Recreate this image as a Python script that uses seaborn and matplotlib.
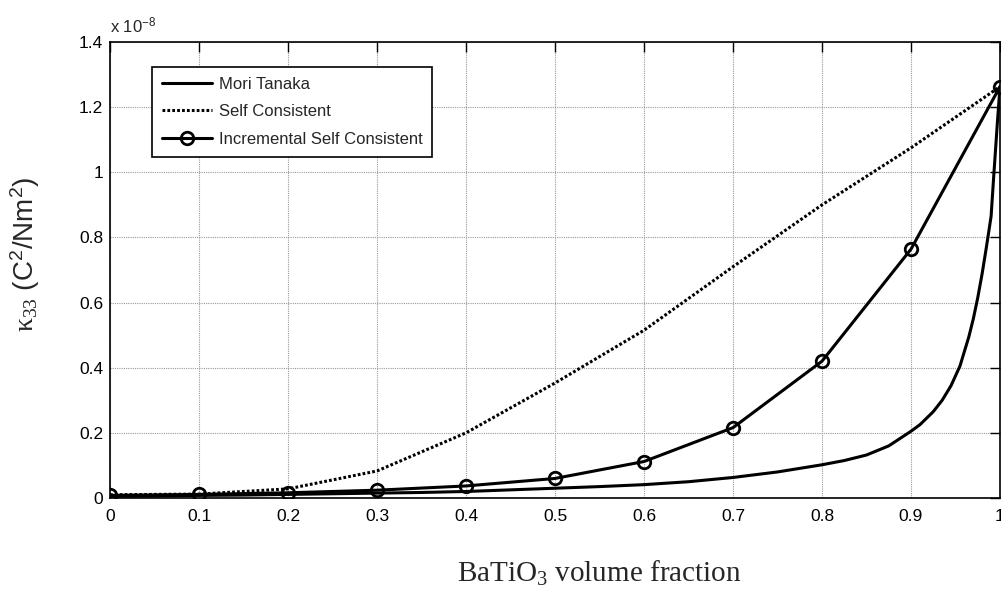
import numpy as np
import pandas as pd
import matplotlib
matplotlib.use("Agg")
import matplotlib.pyplot as plt
import seaborn as sns
from matplotlib.ticker import FuncFormatter

# ---- data (values in units of 1e-8 C^2/Nm^2) ----
x_mt = [0.0, 0.05, 0.1, 0.15, 0.2, 0.25, 0.3, 0.35, 0.4, 0.45, 0.5, 0.55, 0.6,
        0.65, 0.7, 0.75, 0.8, 0.825, 0.85, 0.875, 0.9, 0.91, 0.925, 0.935,
        0.945, 0.955, 0.965, 0.97, 0.975, 0.98, 0.985, 0.99, 0.993, 0.997, 1.0]
y_mt = [0.005, 0.006, 0.008, 0.009, 0.011, 0.013, 0.015, 0.017, 0.020, 0.025,
        0.030, 0.035, 0.041, 0.050, 0.063, 0.080, 0.102, 0.115, 0.132, 0.160,
        0.205, 0.225, 0.265, 0.300, 0.345, 0.405, 0.495, 0.550, 0.615, 0.690,
        0.775, 0.865, 0.990, 1.150, 1.263]

x_sc = [0.0, 0.1, 0.2, 0.3, 0.4, 0.5, 0.6, 0.7, 0.8, 0.9, 1.0]
y_sc = [0.010, 0.012, 0.028, 0.083, 0.200, 0.353, 0.515, 0.710, 0.900, 1.075, 1.263]

x_isc = [0.0, 0.1, 0.2, 0.3, 0.4, 0.5, 0.6, 0.7, 0.8, 0.9, 1.0]
y_isc = [0.008, 0.011, 0.016, 0.024, 0.037, 0.060, 0.112, 0.216, 0.420, 0.764, 1.263]

series_names = ["Mori Tanaka", "Self Consistent", "Incremental Self Consistent"]
x_ticks = [0, 0.1, 0.2, 0.3, 0.4, 0.5, 0.6, 0.7, 0.8, 0.9, 1.0]
y_ticks = [0, 0.2, 0.4, 0.6, 0.8, 1.0, 1.2, 1.4]

sns.set_theme(style="white")
plt.rcParams['font.family'] = ['Liberation Sans', 'DejaVu Sans']
plt.rcParams['mathtext.fontset'] = 'custom'
plt.rcParams['mathtext.rm'] = 'Liberation Serif'
plt.rcParams['mathtext.sf'] = 'Liberation Sans'
plt.rcParams['mathtext.it'] = 'Liberation Serif:italic'

fig = plt.figure(figsize=(10.01, 6.0), dpi=100)
ax = fig.add_axes([110/1001, 102/600, 890/1001, 456/600])

df_mt = pd.DataFrame({"x": x_mt, "y": y_mt})
df_sc = pd.DataFrame({"x": x_sc, "y": y_sc})
df_isc = pd.DataFrame({"x": x_isc, "y": y_isc})

lw = 2.2
sns.lineplot(data=df_mt, x="x", y="y", ax=ax, color="black", lw=lw,
             label=series_names[0], zorder=3)
sns.lineplot(data=df_sc, x="x", y="y", ax=ax, color="black", lw=lw,
             linestyle=(0, (0.9, 0.7)), label=series_names[1], zorder=3)
sns.lineplot(data=df_isc, x="x", y="y", ax=ax, color="black", lw=lw,
             marker="o", markersize=9, markerfacecolor="none",
             markeredgecolor="black", markeredgewidth=2,
             label=series_names[2], zorder=4)

ax.set_xlim(0, 1)
ax.set_ylim(0, 1.4)
ax.set_xticks(x_ticks)
ax.set_yticks(y_ticks)
fmt = FuncFormatter(lambda v, p: ("%g" % round(v, 2)))
ax.xaxis.set_major_formatter(fmt)
ax.yaxis.set_major_formatter(fmt)
ax.tick_params(direction="in", length=7, width=1, colors="black",
               labelsize=12.5, top=True, right=True, pad=5)
ax.tick_params(axis="x", pad=8)
ax.grid(True, color="#9a9a9a", linestyle=(0, (1, 1)), linewidth=0.8)
for s in ax.spines.values():
    s.set_visible(True)
    s.set_color("black")
    s.set_linewidth(1.2)
ax.set_xlabel("")
ax.set_ylabel("")

leg = ax.legend(loc="upper left", bbox_to_anchor=(152/1001, 1 - 67/600),
                bbox_transform=fig.transFigure, borderaxespad=0,
                fontsize=12, frameon=True, fancybox=False, framealpha=1,
                edgecolor="black", handlelength=3.0, handletextpad=0.4,
                labelspacing=0.74, borderpad=0.6)
leg.get_frame().set_linewidth(1.2)

fig.text(110/1001, 1 - 32/600, r"x 10$\mathsf{^{-8}}$", fontsize=12,
         ha="left", va="baseline")
fig.text(599/1001, 1 - 573/600, r"BaTiO$_\mathrm{3}$ volume fraction",
         fontsize=21, family="Liberation Serif", ha="center", va="center")
fig.text(25/1001, 1 - 254/600,
         r"$\mathrm{κ_{33}}$ (C$\mathsf{^2}$/Nm$\mathsf{^2}$)",
         fontsize=20, rotation=90, ha="center", va="center")

fig.savefig("out.png", dpi=100)
